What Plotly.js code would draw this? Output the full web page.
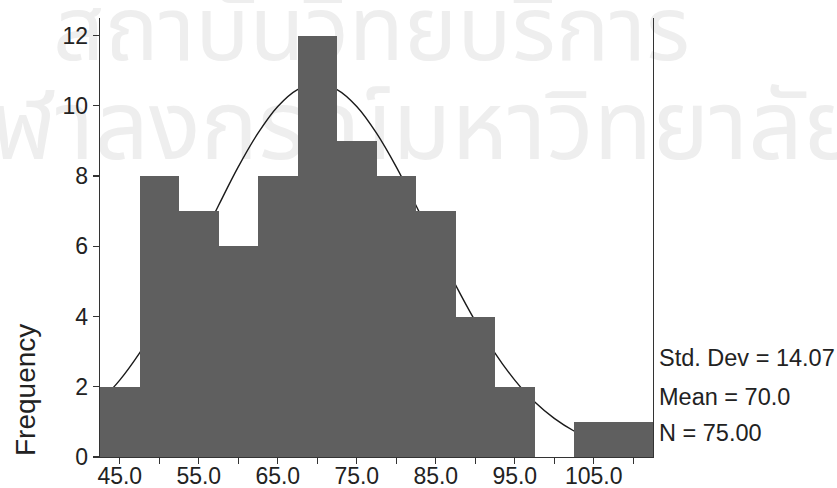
<!DOCTYPE html>
<html>
<head>
<meta charset="utf-8">
<script src="https://cdn.plot.ly/plotly-3.0.1.min.js"></script>
<style>
  html, body { margin: 0; padding: 0; background: #ffffff; }
  #wrap { position: relative; width: 837px; height: 488px; overflow: hidden; background: #ffffff; }
  .wm { position: absolute; white-space: nowrap; color: #eeeeee; font-family: "Noto Sans Thai", "Noto Sans", "DejaVu Sans", sans-serif; line-height: 1; }
  #chart { position: absolute; left: 0; top: 0; width: 837px; height: 488px; }
</style>
</head>
<body>
<div id="wrap">
  <div class="wm" id="wm1" style="left:53px; top:-12px; font-size:90px;">สถาบันวิทยบริการ</div>
  <div class="wm" id="wm2" style="left:-60px; top:82px; font-size:96px;">จุฬาลงกรณ์มหาวิทยาลัย</div>
  <div id="chart"></div>
</div>
<script>
// Histogram bins (midpoints) and frequencies
const binMid = [45, 50, 55, 60, 65, 70, 75, 80, 85, 90, 95, 100, 105, 110];
const counts = [2, 8, 7, 6, 8, 12, 9, 8, 7, 4, 2, 0, 1, 1];

// Normal curve
const curveX = [42.5, 45, 47.5, 50, 52.5, 55, 57.5, 60, 62.5, 65, 67.5, 70, 72.5, 75, 77.5, 80, 82.5, 85, 87.5, 90, 92.5, 95, 97.5, 100, 102.5, 105, 107.5, 110, 112.5];
const curveY = [1.57, 2.19, 2.96, 3.87, 4.90, 6.02, 7.16, 8.26, 9.22, 9.98, 10.46, 10.63, 10.46, 9.98, 9.22, 8.26, 7.16, 6.02, 4.90, 3.87, 2.96, 2.19, 1.57, 1.10, 0.74, 0.48, 0.30, 0.19, 0.11];

// Tick labels
const xTickVals = [45, 50, 55, 60, 65, 70, 75, 80, 85, 90, 95, 100, 105, 110];
const xTickText = ['45.0', '', '55.0', '', '65.0', '', '75.0', '', '85.0', '', '95.0', '', '105.0', ''];
const yTickVals = [0, 2, 4, 6, 8, 10, 12];
const yTickText = ['0', '2', '4', '6', '8', '10', '12'];

// Statistics text
const statsLines = ['Std. Dev = 14.07', 'Mean = 70.0', 'N = 75.00'];
const yTitle = 'Frequency';

const FONT = '"Liberation Sans", Arial, Helvetica, sans-serif';
const xRange = [42.5, 112.5];
const yRange = [0, 12.5];

const traces = [
  {
    type: 'scatter', mode: 'lines',
    x: curveX, y: curveY,
    xaxis: 'x', yaxis: 'y',
    line: { color: '#1a1a1a', width: 1.4, shape: 'spline' },
    hoverinfo: 'skip', showlegend: false
  },
  {
    type: 'bar',
    x: binMid, y: counts, width: 5,
    xaxis: 'x2', yaxis: 'y2',
    marker: { color: '#5f5f5f', line: { width: 0 } },
    hoverinfo: 'skip', showlegend: false
  }
];

const statY = [358, 397, 433];
const annotations = statsLines.map((t, i) => ({
  text: t, xref: 'paper', yref: 'paper',
  x: (657 - 100) / 553, y: (457 - statY[i]) / 439,
  xanchor: 'left', yanchor: 'middle', showarrow: false,
  font: { family: FONT, size: 23.5, color: '#222222' }
}));
annotations.push({
  text: yTitle, xref: 'paper', yref: 'paper',
  x: (25 - 100) / 553, y: (457 - 390) / 439,
  xanchor: 'center', yanchor: 'middle', textangle: -90, showarrow: false,
  font: { family: FONT, size: 28, color: '#222222' }
});

const axisCommon = {
  showgrid: false, zeroline: false, showline: true,
  linecolor: '#333333', linewidth: 1.3,
  ticks: 'outside', ticklen: 6, tickwidth: 1.3, tickcolor: '#333333',
  tickfont: { family: FONT, size: 23, color: '#222222' },
  fixedrange: true
};

const layout = {
  width: 837, height: 488,
  margin: { l: 100, r: 184, t: 18, b: 31, pad: 0 },
  paper_bgcolor: 'rgba(0,0,0,0)',
  plot_bgcolor: 'rgba(0,0,0,0)',
  showlegend: false,
  bargap: 0,
  xaxis: Object.assign({}, axisCommon, {
    range: xRange, tickmode: 'array', tickvals: xTickVals, ticktext: xTickText,
    ticklabelstandoff: -8
  }),
  yaxis: Object.assign({}, axisCommon, {
    range: yRange, tickmode: 'array', tickvals: yTickVals, ticktext: yTickText,
    mirror: true
  }),
  xaxis2: { overlaying: 'x', anchor: 'y2', range: xRange, visible: false, fixedrange: true },
  yaxis2: { overlaying: 'y', anchor: 'x2', range: yRange, visible: false, fixedrange: true },
  annotations: annotations
};

Plotly.newPlot('chart', traces, layout, { staticPlot: true, displayModeBar: false });
</script>
</body>
</html>
